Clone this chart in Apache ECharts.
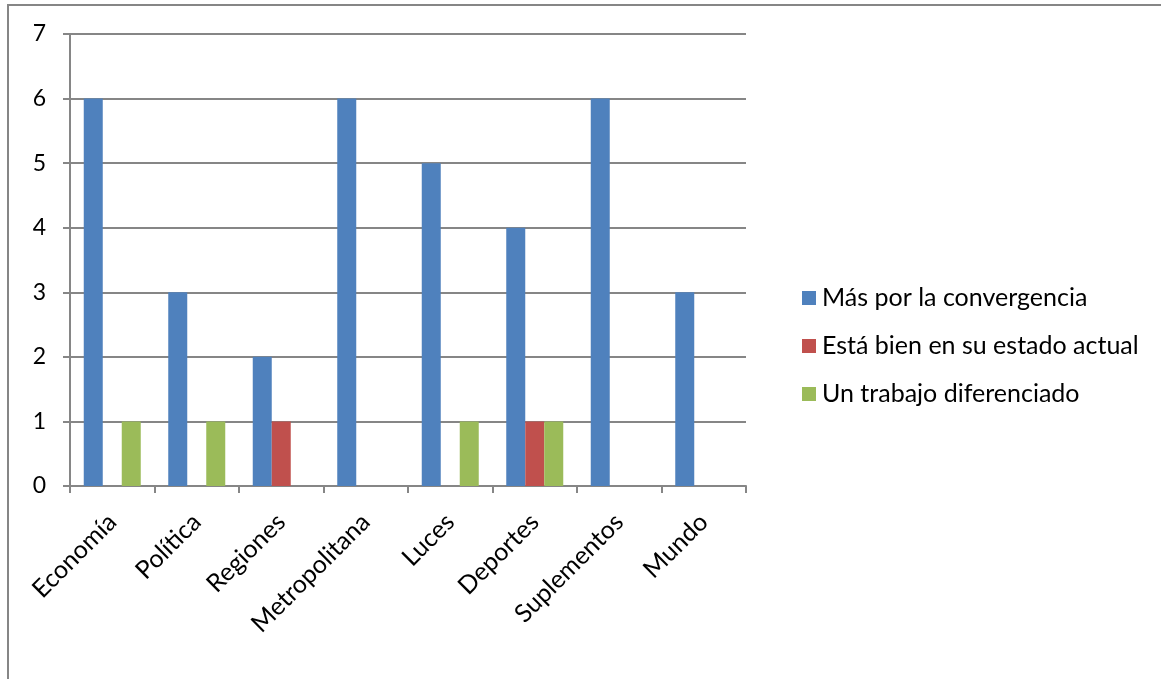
<!DOCTYPE html>
<html>
<head>
<meta charset="utf-8">
<script src="https://cdn.jsdelivr.net/npm/echarts@6/dist/echarts.min.js"></script>
<style>
  html, body { margin: 0; padding: 0; background: #ffffff; }
  #chart { width: 1161px; height: 679px; }
</style>
</head>
<body>
<div id="chart"></div>
<script>
// Sections of the newspaper
const categories = ['Economía', 'Política', 'Regiones', 'Metropolitana', 'Luces', 'Deportes', 'Suplementos', 'Mundo'];

// Answers per section
const masConvergencia = [6, 3, 2, 6, 5, 4, 6, 3];
const estadoActual    = [0, 0, 1, 0, 0, 1, 0, 0];
const trabajoDiferenciado = [1, 1, 0, 0, 1, 1, 0, 0];

const seriesNames = ['Más por la convergencia', 'Está bien en su estado actual', 'Un trabajo diferenciado'];
const yTicks = [0, 1, 2, 3, 4, 5, 6, 7];

const FONT = 'Lato, "Open Sans", sans-serif';
const GRID_GRAY = '#868686';

const chart = echarts.init(document.getElementById('chart'), null, { renderer: 'canvas' });

// zero values are left empty so no sliver is drawn
const blank = v => (v === 0 ? '-' : v);

chart.setOption({
  animation: false,
  backgroundColor: '#ffffff',
  color: ['#4F81BD', '#C0504D', '#9BBB59'],
  graphic: [{
    type: 'rect',
    shape: { x: 8, y: 5, width: 1200, height: 800 },
    style: { fill: 'none', stroke: GRID_GRAY, lineWidth: 2 },
    silent: true
  }],
  grid: { left: 70, right: 415, top: 34, bottom: 193, containLabel: false },
  legend: {
    orient: 'vertical',
    left: 797,
    top: 280,
    itemWidth: 14,
    itemHeight: 14,
    itemGap: 22,
    icon: 'rect',
    data: seriesNames,
    textStyle: { fontFamily: FONT, fontSize: 25, color: '#000', lineHeight: 26, padding: [0, 0, 0, 1] }
  },
  xAxis: {
    type: 'category',
    data: categories,
    boundaryGap: true,
    axisLine: { show: true, lineStyle: { color: GRID_GRAY, width: 2 } },
    axisTick: { show: true, alignWithLabel: false, length: 7, lineStyle: { color: GRID_GRAY, width: 2 } },
    axisLabel: { rotate: 45, margin: 32, fontFamily: FONT, fontSize: 25, color: '#000', interval: 0 },
    splitLine: { show: false }
  },
  yAxis: {
    type: 'value',
    min: yTicks[0],
    max: yTicks[yTicks.length - 1],
    interval: 1,
    axisLine: { show: true, lineStyle: { color: GRID_GRAY, width: 2 } },
    axisTick: { show: true, length: 7, lineStyle: { color: GRID_GRAY, width: 2 } },
    axisLabel: { margin: 24, fontFamily: FONT, fontSize: 23, color: '#000' },
    splitLine: { show: true, lineStyle: { color: GRID_GRAY, width: 2 } }
  },
  series: [
    { name: seriesNames[0], type: 'bar', data: masConvergencia.map(blank), barWidth: 19, barGap: '0%' },
    { name: seriesNames[1], type: 'bar', data: estadoActual.map(blank), barWidth: 19, barGap: '0%' },
    { name: seriesNames[2], type: 'bar', data: trabajoDiferenciado.map(blank), barWidth: 19, barGap: '0%' }
  ]
});
</script>
</body>
</html>
